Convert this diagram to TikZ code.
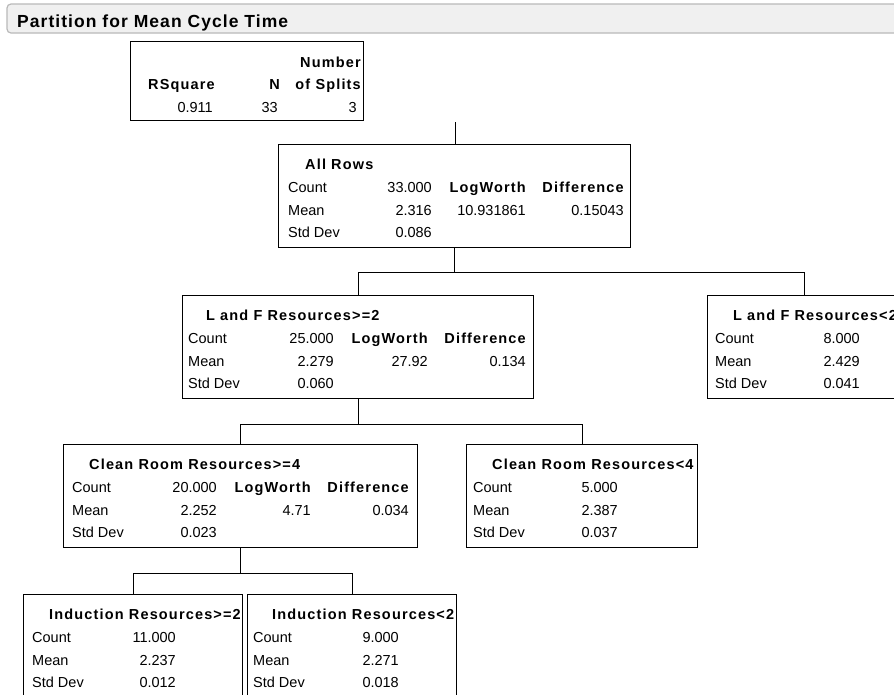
\documentclass[tikz,border=0pt]{standalone}
\usepackage{fontspec}
\setmainfont{Liberation Sans}[BoldFeatures={LetterSpace=8}]
\newfontfamily\titlefont{Liberation Sans}[LetterSpace=6]
\definecolor{hdrfill}{RGB}{240,240,240}
\definecolor{hdrline}{RGB}{185,185,185}
\tikzset{
  box/.style={draw=black, line width=1pt, anchor=north west, inner sep=0pt},
  lbl/.style={inner sep=0pt, font=\fontsize{14.5}{17}\selectfont},
  hd/.style={inner sep=0pt, font=\fontsize{14.5}{17}\selectfont\bfseries},
  link/.style={draw=black, line width=1pt},
  banner/.style={draw=hdrline, fill=hdrfill, line width=1.2pt, rounded corners=4pt},
}
% three statistic rows of a split box: #1 box, #2 label dx, #3 value dx, #4-#6 values
\newcommand\statrows[6]{%
  \node[lbl, anchor=base west] (#1-l1) at ([shift={(#2,48)}]#1.north west) {Count};
  \node[lbl, anchor=base west] (#1-l2) at ([shift={(#2,71)}]#1.north west) {Mean};
  \node[lbl, anchor=base west] (#1-l3) at ([shift={(#2,93)}]#1.north west) {Std Dev};
  \node[lbl, anchor=base east] (#1-v1) at ([shift={(#3,48)}]#1.north west) {#4};
  \node[lbl, anchor=base east] (#1-v2) at ([shift={(#3,71)}]#1.north west) {#5};
  \node[lbl, anchor=base east] (#1-v3) at ([shift={(#3,93)}]#1.north west) {#6};
}
% candidate columns: #1 box, #2 logworth dx, #3 difference dx, #4 logworth, #5 difference
\newcommand\splitcols[5]{%
  \node[hd, anchor=base east] (#1-lwh) at ([shift={(#2,48)}]#1.north west) {LogWorth};
  \node[hd, anchor=base east] (#1-dfh) at ([shift={(#3,48)}]#1.north west) {Difference};
  \node[lbl, anchor=base east] (#1-lw) at ([shift={(#2,71)}]#1.north west) {#4};
  \node[lbl, anchor=base east] (#1-df) at ([shift={(#3,71)}]#1.north west) {#5};
}
\newcommand\boxtitle[3]{%
  \node[hd, anchor=base west] (#1-t) at ([shift={(#2,25)}]#1.north west) {#3};
}
\begin{document}
\begin{tikzpicture}[x=1pt,y=-1pt]
\clip (0,0) rectangle (894,694);
\fill[white] (0,0) rectangle (894,694);

% report header
\path[banner] (7,4) rectangle (910,33);
\node[inner sep=0pt, anchor=base west, font=\titlefont\fontsize{17.5}{20}\selectfont\bfseries] (title) at (17,27) {Partition for Mean Cycle Time};

% summary table
\node[box, minimum width=233pt, minimum height=79pt] (summary) at (130,41) {};
\node[hd, anchor=base east] (sum-h0) at (361,67) {Number};
\node[hd, anchor=base west] (sum-h1) at (148,89) {RSquare};
\node[hd, anchor=base east] (sum-h2) at (280,89) {N};
\node[hd, anchor=base east] (sum-h3) at (361,89) {of Splits};
\node[lbl, anchor=base east] (sum-v1) at (213,112) {0.911};
\node[lbl, anchor=base east] (sum-v2) at (278,112) {33};
\node[lbl, anchor=base east] (sum-v3) at (357,112) {3};

% root
\node[box, minimum width=352pt, minimum height=103pt] (allrows) at (278,144) {};
\boxtitle{allrows}{27}{All Rows}
\statrows{allrows}{10}{154}{33.000}{2.316}{0.086}
\splitcols{allrows}{248}{346}{10.931861}{0.15043}

% first split
\node[box, minimum width=351pt, minimum height=103pt] (lfge) at (182,295) {};
\boxtitle{lfge}{24}{L and F Resources>=2}
\statrows{lfge}{6}{152}{25.000}{2.279}{0.060}
\splitcols{lfge}{246}{344}{27.92}{0.134}

\node[box, minimum width=194pt, minimum height=103pt] (lflt) at (707,295) {};
\boxtitle{lflt}{26}{L and F Resources<2}
\statrows{lflt}{8}{153}{8.000}{2.429}{0.041}

% second split
\node[box, minimum width=354pt, minimum height=103pt] (crge) at (63,444) {};
\boxtitle{crge}{26}{Clean Room Resources>=4}
\statrows{crge}{9}{154}{20.000}{2.252}{0.023}
\splitcols{crge}{248}{346}{4.71}{0.034}

\node[box, minimum width=231pt, minimum height=103pt] (crlt) at (466,444) {};
\boxtitle{crlt}{26}{Clean Room Resources<4}
\statrows{crlt}{7}{152}{5.000}{2.387}{0.037}

% third split
\node[box, minimum width=219pt, minimum height=110pt] (indge) at (23,594) {};
\boxtitle{indge}{26}{Induction Resources>=2}
\statrows{indge}{9}{153}{11.000}{2.237}{0.012}

\node[box, minimum width=209pt, minimum height=110pt] (indlt) at (247,594) {};
\boxtitle{indlt}{25}{Induction Resources<2}
\statrows{indlt}{6}{152}{9.000}{2.271}{0.018}

% tree connectors
\coordinate (feed) at (455,122);
\draw[link] (feed) -- (feed |- allrows.north);
\draw[link] (allrows.south) -- ++(0,24) -| (lfge.north);
\draw[link] (allrows.south) -- ++(0,24) -| (lflt.north);
\draw[link] (lfge.south) -- ++(0,25) -| (crge.north);
\draw[link] (lfge.south) -- ++(0,25) -| (crlt.north);
\draw[link] (crge.south) -- ++(0,25) -| (indge.north);
\draw[link] (crge.south) -- ++(0,25) -| (indlt.north);
\end{tikzpicture}
\end{document}
